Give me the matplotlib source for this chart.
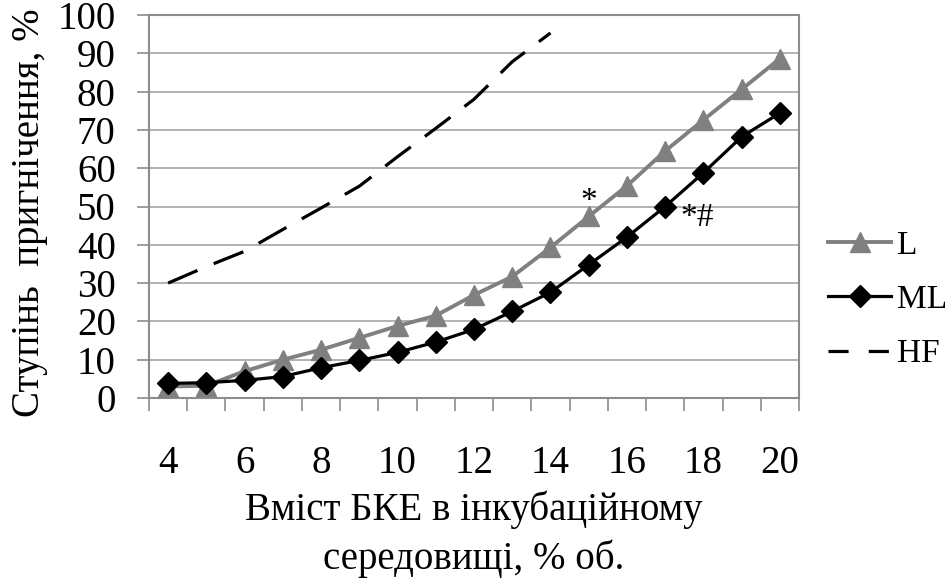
import numpy as np
import matplotlib
matplotlib.use("Agg")
import matplotlib.pyplot as plt
from matplotlib.lines import Line2D
from matplotlib.ticker import FixedLocator, NullFormatter

plt.rcParams['font.family'] = ['Liberation Serif', 'DejaVu Serif']

conc = list(range(4, 21))
tick_labels = [str(v) for v in range(4, 21, 2)]
L_vals = [3.0, 3.2, 7.0, 10.0, 12.6, 15.7, 18.8, 21.5, 26.9, 31.7, 39.3, 47.4, 55.4, 64.5, 72.6, 80.6, 88.6]
ML_vals = [3.8, 4.0, 4.6, 5.6, 7.9, 9.8, 11.9, 14.6, 17.9, 22.6, 27.6, 34.8, 42.0, 50.0, 58.8, 68.2, 74.4]
HF_vals = [30.0, 34.3, 38.3, 44.0, 49.6, 55.3, 63.0, 70.4, 78.0, 87.8, 95.3] + [np.nan] * 6

fig = plt.figure(figsize=(9.46, 5.8), dpi=100)
ax = fig.add_axes([149/946, 1-398/580, 650/946, 383/580])

fs = 28
grid_c = '#a6a6a6'
frame_c = '#8c8c8c'
gray = '#808080'

lL, = ax.plot(conc, L_vals, color=gray, lw=2.8, marker='^', ms=15, mec=gray, mfc=gray, label='L', zorder=3)
lML, = ax.plot(conc, ML_vals, color='black', lw=2.3, marker='D', ms=11, mec='black', mfc='black', label='ML', zorder=4)
ax.plot(conc, HF_vals, color='black', lw=2.3, dashes=(10, 5.5), label='HF', zorder=2)

ax.set_xlim(3.5, 20.5)
ax.set_ylim(0, 100)
ax.set_yticks(range(0, 101, 10))
ax.set_yticklabels([str(v) for v in range(0, 101, 10)], fontsize=fs)
ax.set_xticks(range(4, 21, 2))
ax.set_xticklabels(tick_labels, fontsize=fs)
ax.xaxis.set_minor_locator(FixedLocator(np.arange(3.5, 20.6, 1.0)))
ax.xaxis.set_minor_formatter(NullFormatter())
ax.tick_params(axis='x', which='major', length=0, pad=34)
ax.tick_params(axis='x', which='minor', length=9, width=1.2, color=frame_c)
ax.tick_params(axis='y', length=9, width=1.2, color=frame_c, pad=15)
ax.yaxis.grid(True, color=grid_c, lw=1.2, zorder=0)
ax.set_axisbelow(True)
for s in ax.spines.values():
    s.set_color(frame_c)
    s.set_linewidth(1.5)

fig.text(30/946, 1-213/580, 'Ступінь  пригнічення, %', fontsize=fs, rotation=90,
         ha='center', va='center')
fig.text(474/946, 1-520/580, 'Вміст БКЕ в інкубаційному', fontsize=fs, ha='center', va='baseline')
fig.text(474/946, 1-569/580, 'середовищі, % об.', fontsize=fs, ha='center', va='baseline')

ax.text(15, 49.0, '*', fontsize=24, ha='center', va='baseline')
ax.text(17.4, 45.0, '*#', fontsize=24, ha='left', va='baseline')

hf_proxy = Line2D([], [], color='black', lw=2.3, dashes=(6.3, 6.3))
leg = fig.legend([lL, lML, hf_proxy], ['L', 'ML', 'HF'], loc='upper left',
                 bbox_to_anchor=(828/946, 1-230/580), frameon=False,
                 fontsize=24, handlelength=1.9, handletextpad=0.18, labelspacing=0.72,
                 borderaxespad=0, borderpad=0)

fig.savefig('out.png', dpi=100)
